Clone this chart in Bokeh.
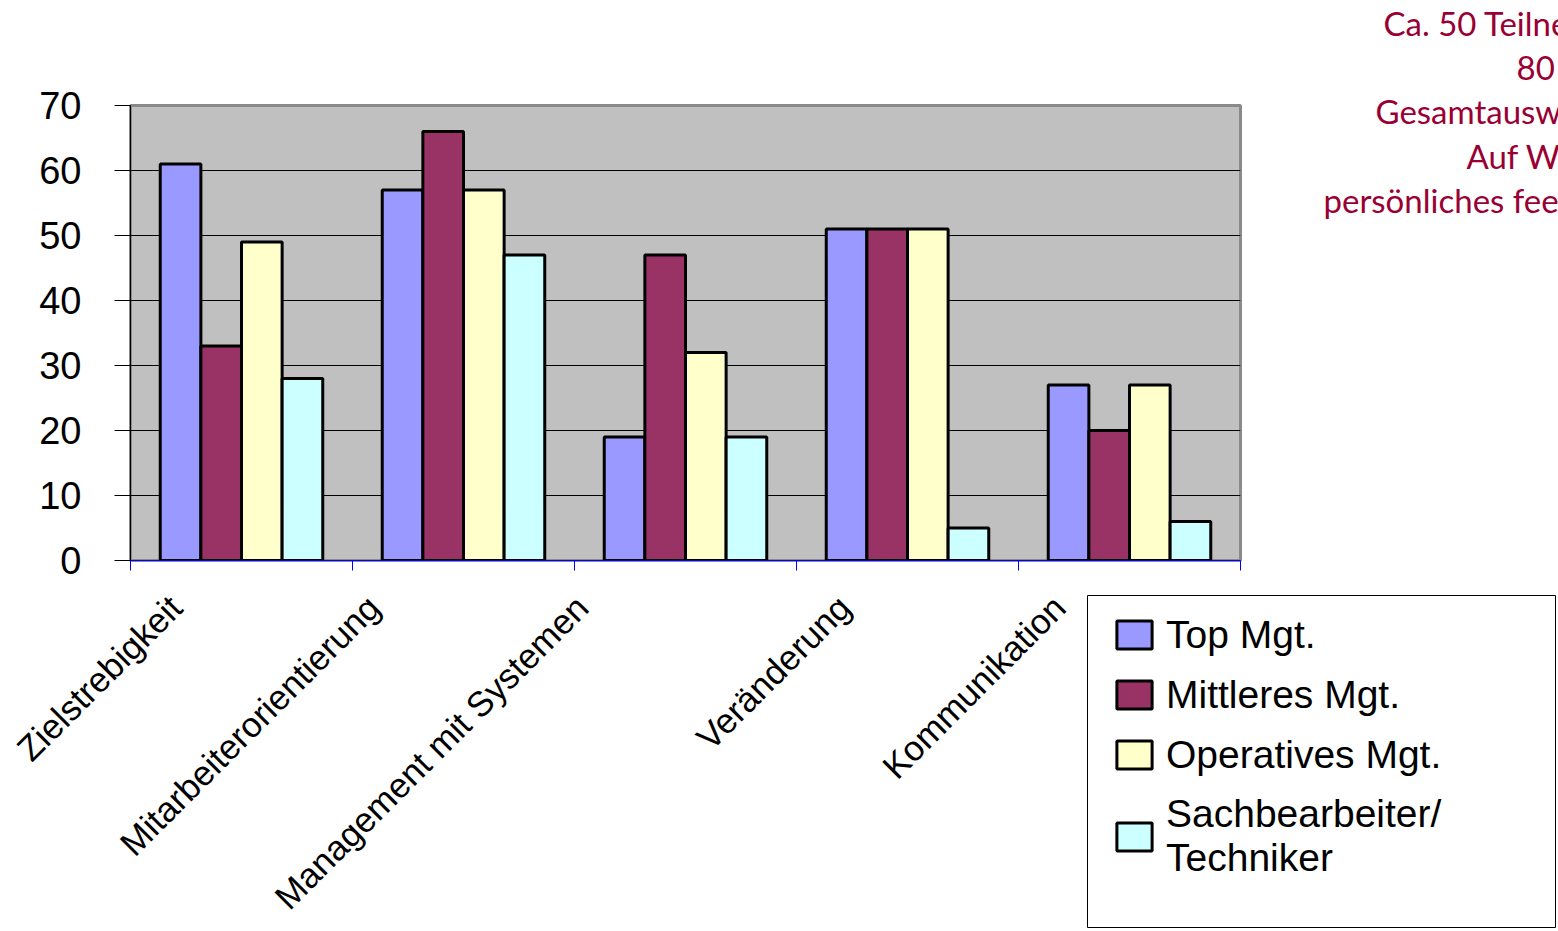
import math

from bokeh.core.properties import value
from bokeh.embed import file_html
from bokeh.layouts import column, row
from bokeh.models import (BoxAnnotation, ColumnDataSource, FixedTicker, Legend, LegendItem,
                          Range1d)
from bokeh.plotting import figure
from bokeh.resources import INLINE
from bokeh.transform import dodge

# ---- data -------------------------------------------------------------
categories = ["Zielstrebigkeit", "Mitarbeiterorientierung", "Management mit Systemen",
              "Veränderung", "Kommunikation"]
series_names = ["Top Mgt.", "Mittleres Mgt.", "Operatives Mgt.", "Sachbearbeiter/\nTechniker"]
top_mgt = [61, 57, 19, 51, 27]
mittleres_mgt = [33, 66, 47, 51, 20]
operatives_mgt = [49, 57, 32, 51, 27]
sachbearbeiter = [28, 47, 19, 5, 6]
y_ticks = [0, 10, 20, 30, 40, 50, 60, 70]
note_lines = ["Ca. 50 Teilnehmer", "80 Fragen", "Gesamtauswertung", "Auf Wunsch",
              "persönliches feedback"]

# ---- layout / styling -------------------------------------------------
colors = ["#9999FF", "#993366", "#FFFFCC", "#CCFFFF"]
fields = ["top_mgt", "mittleres", "operatives", "sachb"]
BASE_FONT = "Liberation Sans"
NOTE_COLOR = "#990033"

W, H = 1558, 931
FRAME_L, FRAME_R, FRAME_T, FRAME_B = 130, 1240, 105, 560   # plot area on the page
TOP_H = 586          # height of the upper row (chart + note)
CHART_W = 1290       # chart figure width; the note panel fills the rest
Y_MAX = 70
CAT_FONT_PX = 35
LABEL_DROP = 41      # category label baseline end, px below the axis
LEGEND_BOX = (1087, 1555, 595, 927)   # left, right, top, bottom on the page

n = len(categories)
px_x = (FRAME_R - FRAME_L) / n        # pixels per category slot
px_y = (FRAME_B - FRAME_T) / Y_MAX    # pixels per value unit

# Arial / Liberation Sans advance widths (per 1000 em) for the label text
_ADV = {"Z": 611, "i": 222, "e": 556, "l": 222, "s": 500, "t": 278, "r": 333, "b": 556,
        "g": 556, "k": 500, "M": 833, "a": 556, "o": 556, "n": 556, "u": 556, "m": 833,
        " ": 278, "S": 667, "y": 500, "V": 667, "ä": 556, "d": 556, "K": 667}


def text_width(s, size_px):
    return sum(_ADV.get(c, 556) for c in s) * size_px / 1000.0


def label_shift(s):
    """slanted labels: the text end sits left of the slot centre, farther for long labels"""
    return -27 - 0.18 * text_width(s, CAT_FONT_PX)


def page_x(px):
    """page pixel column -> x data value (shared by chart and lower panel)"""
    return (px - FRAME_L) / px_x


def page_y(py):
    """page pixel row -> y data value (shared by chart and lower panel)"""
    return (FRAME_B - py) / px_y


source = ColumnDataSource(dict(
    x=[i + 0.5 for i in range(n)],
    category=categories,
    shift=[label_shift(c) for c in categories],
    top_mgt=top_mgt,
    mittleres=mittleres_mgt,
    operatives=operatives_mgt,
    sachb=sachbearbeiter,
))

bar_w = 0.183


def add_bars(fig, visible=True):
    rs = []
    for k, (field, color) in enumerate(zip(fields, colors)):
        rs.append(fig.vbar(x=dodge("x", (k - 1.5) * bar_w, range=fig.x_range), top=field,
                           bottom=0, width=bar_w, source=source, fill_color=color,
                           line_color="black", line_width=3, visible=visible))
    return rs


# ---- chart ------------------------------------------------------------
chart = figure(width=CHART_W, height=TOP_H, output_backend="svg", toolbar_location=None,
               x_range=Range1d(0, n), y_range=Range1d(0, Y_MAX), title=None,
               min_border_left=FRAME_L, min_border_right=CHART_W - FRAME_R,
               min_border_top=FRAME_T, min_border_bottom=TOP_H - FRAME_B,
               background_fill_color="#C0C0C0", border_fill_color="white",
               frame_align=False)
add_bars(chart)

# x axis: blue line with ticks between the category slots
chart.xaxis.ticker = FixedTicker(ticks=list(range(n + 1)))
chart.xaxis.major_label_overrides = {i: "" for i in range(n + 1)}
chart.xaxis.major_label_text_font_size = "0px"
chart.xaxis.major_label_standoff = 0
chart.xaxis.axis_line_color = "#0000FF"
chart.xaxis.major_tick_line_color = "#0000FF"
chart.xaxis.major_tick_out = 10
chart.xaxis.major_tick_in = 0
chart.xaxis.minor_tick_line_color = None
chart.xgrid.visible = False

# y axis
chart.yaxis.ticker = FixedTicker(ticks=y_ticks)
chart.yaxis.axis_line_color = "black"
chart.yaxis.major_tick_line_color = "black"
chart.yaxis.major_tick_out = 16
chart.yaxis.major_tick_in = 0
chart.yaxis.minor_tick_line_color = None
chart.yaxis.major_label_standoff = 33
chart.yaxis.major_label_text_font = BASE_FONT
chart.yaxis.major_label_text_font_size = "38px"
chart.yaxis.major_label_text_color = "black"
chart.ygrid.ticker = FixedTicker(ticks=y_ticks)
chart.ygrid.grid_line_color = "black"
chart.ygrid.grid_line_width = 1

chart.outline_line_color = "#8A8A8A"
chart.outline_line_width = 3

# ---- note in the upper right corner -------------------------------------
note = figure(width=W - CHART_W, height=TOP_H, output_backend="svg", toolbar_location=None,
              x_range=Range1d(CHART_W, W), y_range=Range1d(TOP_H, 0), title=None,
              x_axis_type=None, y_axis_type=None, min_border=0, outline_line_color=None,
              frame_align=False)
note_src = ColumnDataSource(dict(
    text=note_lines,
    left=[1383, 1516, 1375, 1466, 1323],
    base=[22, 66, 110, 155, 199],
))
note.text(x="left", y="base", text="text", source=note_src, text_align="left",
          text_baseline="alphabetic", text_font=value("Lato"), text_font_size=value("33px"),
          text_color=NOTE_COLOR)

# ---- category labels and legend below the chart -----------------------
bottom = figure(width=W, height=H - TOP_H, output_backend="svg", toolbar_location=None,
                x_range=Range1d(page_x(0), page_x(W)),
                y_range=Range1d(page_y(H), page_y(TOP_H)),
                title=None, x_axis_type=None, y_axis_type=None, min_border=0,
                outline_line_color=None, frame_align=False)
# hidden copies of the bars, only used for the legend swatches
legend_renderers = add_bars(bottom, visible=False)

bottom.text(x="x", y=page_y(FRAME_B + LABEL_DROP), text="category", source=source,
            angle=math.pi / 4, x_offset="shift", text_align="right",
            text_baseline="alphabetic", text_font=value(BASE_FONT),
            text_font_size=value(f"{CAT_FONT_PX}px"), text_color="black")

# legend frame
bl, br, bt, bb = LEGEND_BOX
bottom.add_layout(BoxAnnotation(left=page_x(bl), right=page_x(br), top=page_y(bt),
                                bottom=page_y(bb), fill_color="white", fill_alpha=1,
                                line_color="black", line_alpha=1, line_width=1))

# legend entries (no own border, so no padding: placed by their item block)
ITEMS_LEFT, ITEMS_TOP, ITEMS_H = 1112, 611, 269
legend = Legend(items=[LegendItem(label=name, renderers=[r])
                       for name, r in zip(series_names, legend_renderers)],
                location=(ITEMS_LEFT, H - TOP_H - (ITEMS_TOP - TOP_H) - ITEMS_H))
legend.label_text_font = BASE_FONT
legend.label_text_font_size = "39px"
legend.label_text_color = "black"
legend.label_text_line_height = 1.15
legend.glyph_width = 44
legend.glyph_height = 35
legend.label_height = 45
legend.label_standoff = 10
legend.spacing = 15
legend.padding = 0
legend.margin = 0
legend.inactive_fill_alpha = 0
legend.border_line_color = None
legend.background_fill_alpha = 0
bottom.add_layout(legend)

layout = column(row(chart, note, spacing=0), bottom, spacing=0)

open("out.html", "w").write(file_html(layout, INLINE))
